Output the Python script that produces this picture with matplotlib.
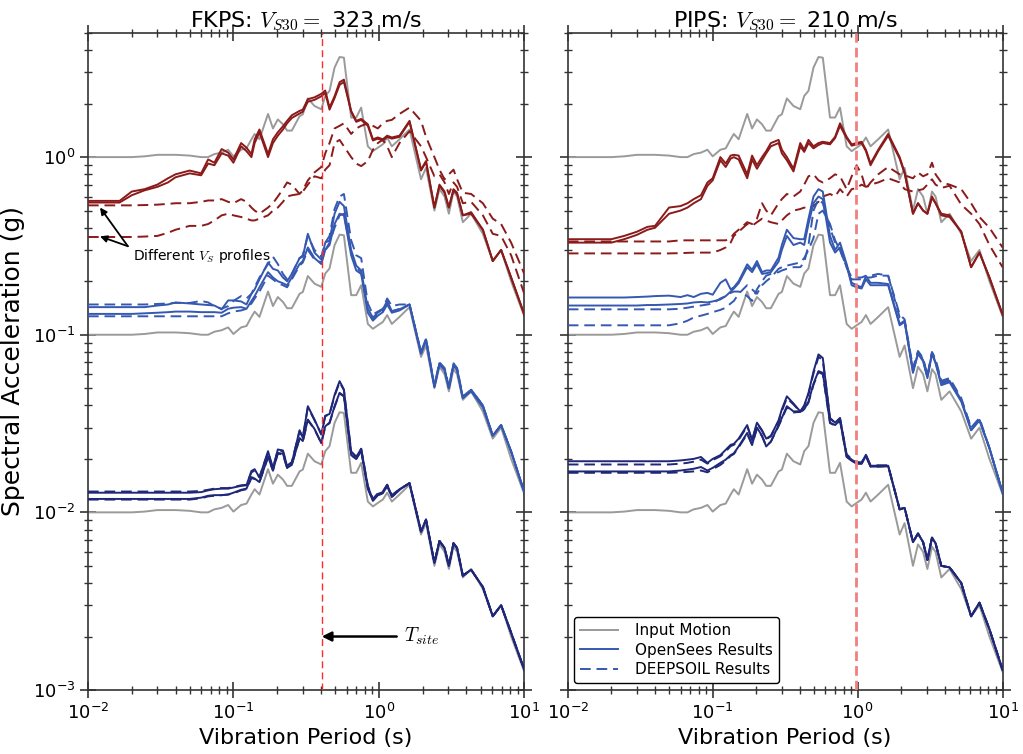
import matplotlib
matplotlib.use("Agg")
import matplotlib.pyplot as plt
from matplotlib.lines import Line2D
from matplotlib.ticker import LogLocator, NullFormatter

plt.rcParams["mathtext.fontset"] = "cm"
plt.rcParams["font.family"] = ["DejaVu Sans"]

# vibration periods (s), shared by every curve
period = [0.01, 0.0165, 0.020, 0.0245, 0.030, 0.0355, 0.040, 0.050, 0.060, 0.067,
          0.074, 0.083, 0.092, 0.100, 0.113, 0.123, 0.133, 0.140, 0.151, 0.173,
          0.187, 0.202, 0.219, 0.234, 0.252, 0.285, 0.300, 0.325, 0.361, 0.402,
          0.428, 0.458, 0.496, 0.537, 0.575, 0.645, 0.699, 0.756, 0.840, 0.910,
          0.984, 1.065, 1.141, 1.228, 1.387, 1.625, 1.95, 2.11, 2.41, 2.61,
          2.83, 3.03, 3.26, 3.45, 3.78, 4.31, 5.19, 6.07, 6.93, 8.12, 10.0]

# input motion at the three intensity levels
input_1 = [1.00, 1.00, 1.00, 1.01, 1.03, 1.03, 1.03, 1.02, 1.00, 1.00,
           1.04, 1.06, 1.10, 1.01, 1.10, 1.12, 1.26, 1.35, 1.26, 1.75,
           1.45, 1.63, 1.53, 1.41, 1.41, 1.70, 1.74, 2.14, 1.94, 1.86,
           2.21, 2.36, 3.19, 3.66, 3.63, 1.67, 1.67, 1.90, 1.15, 1.08,
           1.13, 1.18, 1.29, 1.15, 1.26, 1.43, 0.75, 0.87, 0.50, 0.66,
           0.60, 0.48, 0.64, 0.60, 0.43, 0.48, 0.37, 0.26, 0.30, 0.20, 0.127]
input_01 = [0.100, 0.100, 0.100, 0.101, 0.103, 0.103, 0.103, 0.102, 0.100, 0.100,
            0.104, 0.106, 0.110, 0.101, 0.110, 0.112, 0.126, 0.135, 0.126, 0.175,
            0.145, 0.163, 0.153, 0.141, 0.141, 0.170, 0.174, 0.214, 0.194, 0.186,
            0.221, 0.236, 0.319, 0.366, 0.363, 0.167, 0.167, 0.190, 0.115, 0.108,
            0.113, 0.118, 0.129, 0.115, 0.126, 0.143, 0.075, 0.087, 0.050, 0.066,
            0.060, 0.048, 0.064, 0.060, 0.043, 0.048, 0.037, 0.026, 0.030, 0.020, 0.0127]
input_001 = [0.0100, 0.0100, 0.0100, 0.0101, 0.0103, 0.0103, 0.0103, 0.0102, 0.0100, 0.0100,
             0.0104, 0.0106, 0.0110, 0.0101, 0.0110, 0.0112, 0.0126, 0.0135, 0.0126, 0.0175,
             0.0145, 0.0163, 0.0153, 0.0141, 0.0141, 0.0170, 0.0174, 0.0214, 0.0194, 0.0186,
             0.0221, 0.0236, 0.0319, 0.0366, 0.0363, 0.0167, 0.0167, 0.0190, 0.0115, 0.0108,
             0.0113, 0.0118, 0.0129, 0.0115, 0.0126, 0.0143, 0.0075, 0.0087, 0.0050, 0.0066,
             0.0060, 0.0048, 0.0064, 0.0060, 0.0043, 0.0048, 0.0037, 0.0026, 0.0030, 0.0020, 0.00127]

# ---- FKPS ----
fk_hi_os_a = [0.567, 0.567, 0.64, 0.66, 0.70, 0.76, 0.80, 0.84, 0.81, 0.97,
              0.93, 1.11, 1.06, 0.97, 1.20, 1.13, 1.04, 1.26, 1.43, 1.04,
              1.26, 1.38, 1.49, 1.60, 1.72, 1.82, 1.85, 2.12, 2.17, 2.27,
              2.37, 1.90, 2.20, 2.64, 2.73, 1.82, 1.60, 1.64, 1.53, 1.26,
              1.29, 1.26, 1.32, 1.29, 1.32, 1.60, 0.85, 0.95, 0.52, 0.70,
              0.64, 0.52, 0.66, 0.63, 0.47, 0.49, 0.39, 0.26, 0.30, 0.21, 0.13]
fk_hi_os_b = [0.555, 0.555, 0.61, 0.65, 0.68, 0.72, 0.77, 0.81, 0.79, 0.92,
              0.90, 1.05, 1.02, 0.93, 1.15, 1.08, 1.00, 1.20, 1.38, 1.00,
              1.20, 1.32, 1.43, 1.55, 1.66, 1.76, 1.80, 2.05, 2.10, 2.20,
              2.30, 1.85, 2.15, 2.55, 2.65, 1.80, 1.58, 1.62, 1.50, 1.24,
              1.27, 1.24, 1.30, 1.27, 1.30, 1.58, 0.84, 0.94, 0.52, 0.69,
              0.63, 0.52, 0.65, 0.62, 0.47, 0.48, 0.39, 0.26, 0.30, 0.21, 0.13]
fk_hi_ds_a = [0.535, 0.535, 0.535, 0.537, 0.54, 0.545, 0.55, 0.55, 0.56, 0.57,
              0.57, 0.58, 0.56, 0.55, 0.58, 0.56, 0.52, 0.50, 0.48, 0.52,
              0.55, 0.60, 0.66, 0.72, 0.70, 0.62, 0.65, 0.74, 0.82, 0.88,
              1.05, 1.20, 1.45, 1.50, 1.55, 1.35, 1.45, 1.50, 1.55, 1.50,
              1.45, 1.55, 1.60, 1.62, 1.75, 1.90, 1.60, 1.30, 1.00, 0.85,
              0.75, 0.80, 0.85, 0.75, 0.63, 0.62, 0.55, 0.45, 0.42, 0.33, 0.22]
fk_hi_ds_b = [0.355, 0.355, 0.355, 0.357, 0.36, 0.375, 0.39, 0.41, 0.41, 0.42,
              0.44, 0.47, 0.48, 0.47, 0.46, 0.45, 0.44, 0.44, 0.45, 0.47,
              0.50, 0.52, 0.56, 0.60, 0.61, 0.62, 0.64, 0.70, 0.78, 0.76,
              0.85, 0.90, 1.20, 1.25, 1.15, 1.00, 0.92, 0.89, 0.95, 1.10,
              1.20, 1.25, 1.15, 1.00, 1.20, 1.40, 1.15, 1.00, 0.78, 0.80,
              0.72, 0.62, 0.72, 0.68, 0.55, 0.56, 0.47, 0.37, 0.36, 0.28, 0.17]
fk_mid_os_a = [0.143, 0.143, 0.143, 0.143, 0.146, 0.148, 0.152, 0.150, 0.148, 0.147,
               0.146, 0.139, 0.156, 0.156, 0.154, 0.148, 0.170, 0.180, 0.205, 0.255,
               0.235, 0.230, 0.210, 0.200, 0.220, 0.270, 0.275, 0.370, 0.290, 0.265,
               0.330, 0.340, 0.480, 0.560, 0.530, 0.300, 0.245, 0.230, 0.140, 0.125,
               0.133, 0.139, 0.155, 0.136, 0.139, 0.148, 0.079, 0.094, 0.051, 0.069,
               0.064, 0.050, 0.068, 0.064, 0.044, 0.049, 0.040, 0.027, 0.031, 0.022, 0.013]
fk_mid_os_b = [0.131, 0.131, 0.131, 0.132, 0.133, 0.134, 0.135, 0.135, 0.134, 0.134,
               0.134, 0.133, 0.140, 0.142, 0.143, 0.140, 0.155, 0.165, 0.185, 0.225,
               0.210, 0.200, 0.195, 0.190, 0.210, 0.250, 0.260, 0.310, 0.270, 0.250,
               0.300, 0.320, 0.420, 0.480, 0.470, 0.280, 0.230, 0.220, 0.133, 0.120,
               0.128, 0.134, 0.148, 0.133, 0.137, 0.148, 0.078, 0.093, 0.051, 0.068,
               0.063, 0.050, 0.067, 0.063, 0.044, 0.048, 0.039, 0.027, 0.031, 0.022, 0.013]
fk_mid_ds_a = [0.148, 0.148, 0.148, 0.148, 0.149, 0.150, 0.151, 0.151, 0.155, 0.152,
               0.145, 0.140, 0.145, 0.155, 0.165, 0.160, 0.170, 0.185, 0.210, 0.250,
               0.275, 0.250, 0.220, 0.205, 0.220, 0.270, 0.280, 0.360, 0.300, 0.275,
               0.330, 0.360, 0.510, 0.600, 0.620, 0.340, 0.280, 0.270, 0.150, 0.130,
               0.135, 0.140, 0.160, 0.145, 0.148, 0.148, 0.080, 0.095, 0.052, 0.070,
               0.065, 0.051, 0.069, 0.065, 0.045, 0.049, 0.040, 0.027, 0.031, 0.022, 0.013]
fk_mid_ds_b = [0.127, 0.127, 0.127, 0.127, 0.127, 0.127, 0.127, 0.127, 0.127, 0.127,
               0.127, 0.127, 0.132, 0.135, 0.137, 0.140, 0.150, 0.160, 0.175, 0.215,
               0.205, 0.195, 0.190, 0.185, 0.205, 0.245, 0.255, 0.300, 0.265, 0.255,
               0.300, 0.330, 0.400, 0.470, 0.480, 0.290, 0.240, 0.225, 0.136, 0.122,
               0.130, 0.136, 0.150, 0.135, 0.140, 0.148, 0.079, 0.094, 0.051, 0.069,
               0.064, 0.050, 0.068, 0.064, 0.044, 0.049, 0.040, 0.027, 0.031, 0.022, 0.013]
fk_lo_os_a = [0.0129, 0.0129, 0.0129, 0.0129, 0.0129, 0.0129, 0.0129, 0.0129, 0.0130, 0.0133,
              0.0135, 0.0136, 0.0136, 0.0138, 0.0141, 0.0142, 0.0171, 0.0175, 0.0157, 0.0221,
              0.0176, 0.0226, 0.0223, 0.0182, 0.0190, 0.0290, 0.0263, 0.0396, 0.0333, 0.0274,
              0.0350, 0.0358, 0.0458, 0.0548, 0.0492, 0.0219, 0.0205, 0.0228, 0.0140, 0.0118,
              0.0127, 0.0130, 0.0143, 0.0124, 0.0135, 0.0146, 0.0078, 0.0091, 0.0052, 0.0069,
              0.0063, 0.0050, 0.0067, 0.0063, 0.0044, 0.00475, 0.0038, 0.0026, 0.0030, 0.0021, 0.0013]
fk_lo_os_b = [0.0119, 0.0119, 0.0119, 0.0119, 0.0119, 0.0119, 0.0119, 0.0119, 0.0121, 0.0124,
              0.0125, 0.0125, 0.0126, 0.0129, 0.0134, 0.0136, 0.0158, 0.0155, 0.0148, 0.0206,
              0.0172, 0.0216, 0.0214, 0.0178, 0.0185, 0.0262, 0.0252, 0.0333, 0.0295, 0.0245,
              0.0305, 0.0320, 0.0396, 0.0471, 0.0452, 0.0210, 0.0200, 0.0222, 0.0136, 0.0116,
              0.0125, 0.0128, 0.0141, 0.0122, 0.0134, 0.0146, 0.0078, 0.0091, 0.0052, 0.0069,
              0.0063, 0.0050, 0.0067, 0.0063, 0.0044, 0.00475, 0.0038, 0.0026, 0.0030, 0.0021, 0.0013]
fk_lo_ds_a = [0.0131, 0.0131, 0.0131, 0.0131, 0.0131, 0.0131, 0.0131, 0.0131, 0.0132, 0.0134,
              0.0136, 0.0137, 0.0137, 0.0139, 0.0142, 0.0143, 0.0168, 0.0172, 0.0158, 0.0218,
              0.0178, 0.0224, 0.0221, 0.0183, 0.0192, 0.0286, 0.0265, 0.0390, 0.0330, 0.0276,
              0.0348, 0.0356, 0.0452, 0.0540, 0.0488, 0.0220, 0.0206, 0.0228, 0.0141, 0.0119,
              0.0128, 0.0131, 0.0143, 0.0125, 0.0135, 0.0146, 0.0078, 0.0091, 0.0052, 0.0069,
              0.0063, 0.0050, 0.0067, 0.0063, 0.0044, 0.00475, 0.0038, 0.0026, 0.0030, 0.0021, 0.0013]
fk_lo_ds_b = [0.0118, 0.0118, 0.0118, 0.0118, 0.0118, 0.0118, 0.0118, 0.0118, 0.0120, 0.0123,
              0.0124, 0.0125, 0.0126, 0.0128, 0.0133, 0.0135, 0.0156, 0.0154, 0.0148, 0.0204,
              0.0172, 0.0214, 0.0212, 0.0178, 0.0186, 0.0260, 0.0250, 0.0330, 0.0293, 0.0246,
              0.0303, 0.0318, 0.0392, 0.0466, 0.0450, 0.0210, 0.0200, 0.0222, 0.0136, 0.0117,
              0.0125, 0.0128, 0.0141, 0.0122, 0.0134, 0.0146, 0.0078, 0.0091, 0.0052, 0.0069,
              0.0063, 0.0050, 0.0067, 0.0063, 0.0044, 0.00475, 0.0038, 0.0026, 0.0030, 0.0021, 0.0013]

# ---- PIPS ----
pi_hi_os_a = [0.345, 0.345, 0.345, 0.36, 0.38, 0.405, 0.41, 0.52, 0.53, 0.55,
              0.58, 0.61, 0.72, 0.76, 1.00, 0.92, 1.02, 1.03, 1.02, 0.80,
              1.02, 0.90, 1.00, 1.08, 1.20, 1.25, 1.10, 1.00, 0.86, 1.20,
              1.10, 1.25, 1.15, 1.20, 1.22, 1.20, 1.30, 1.55, 1.30, 1.18,
              1.20, 1.22, 1.10, 0.92, 1.10, 1.35, 1.00, 0.82, 0.48, 0.55,
              0.50, 0.48, 0.60, 0.55, 0.48, 0.47, 0.38, 0.24, 0.29, 0.21, 0.13]
pi_hi_os_b = [0.33, 0.33, 0.33, 0.345, 0.365, 0.39, 0.40, 0.48, 0.50, 0.52,
              0.55, 0.58, 0.69, 0.74, 0.96, 0.88, 0.98, 1.00, 0.97, 0.76,
              0.97, 0.86, 0.96, 1.05, 1.15, 1.20, 1.05, 0.96, 0.83, 1.15,
              1.07, 1.20, 1.12, 1.17, 1.20, 1.18, 1.28, 1.50, 1.28, 1.16,
              1.18, 1.20, 1.08, 0.90, 1.08, 1.32, 0.98, 0.81, 0.48, 0.55,
              0.50, 0.48, 0.59, 0.55, 0.47, 0.46, 0.38, 0.24, 0.29, 0.21, 0.13]
pi_hi_ds_a = [0.335, 0.335, 0.335, 0.335, 0.335, 0.335, 0.335, 0.335, 0.34, 0.34,
              0.34, 0.34, 0.34, 0.34, 0.34, 0.34, 0.35, 0.37, 0.39, 0.43,
              0.42, 0.45, 0.55, 0.50, 0.47, 0.55, 0.58, 0.62, 0.60, 0.64,
              0.70, 0.78, 0.80, 0.74, 0.72, 0.76, 0.80, 0.78, 0.66, 0.78,
              0.90, 0.80, 0.66, 0.72, 0.80, 0.88, 0.80, 0.79, 0.76, 0.82,
              0.78, 0.80, 0.93, 0.80, 0.72, 0.70, 0.66, 0.55, 0.46, 0.40, 0.31]
pi_hi_ds_b = [0.287, 0.287, 0.287, 0.287, 0.287, 0.287, 0.287, 0.287, 0.288, 0.289,
              0.29, 0.29, 0.29, 0.29, 0.30, 0.31, 0.33, 0.36, 0.38, 0.42,
              0.41, 0.43, 0.45, 0.44, 0.43, 0.42, 0.44, 0.47, 0.50, 0.51,
              0.52, 0.51, 0.53, 0.56, 0.60, 0.62, 0.60, 0.66, 0.60, 0.66,
              0.67, 0.70, 0.68, 0.70, 0.72, 0.76, 0.72, 0.66, 0.64, 0.65,
              0.66, 0.70, 0.75, 0.70, 0.67, 0.69, 0.54, 0.48, 0.42, 0.32, 0.24]
pi_mid_os_a = [0.162, 0.162, 0.162, 0.162, 0.163, 0.164, 0.165, 0.166, 0.163, 0.167,
               0.163, 0.170, 0.172, 0.168, 0.196, 0.205, 0.180, 0.185, 0.200, 0.249,
               0.232, 0.260, 0.225, 0.230, 0.230, 0.272, 0.320, 0.390, 0.350, 0.345,
               0.345, 0.450, 0.600, 0.660, 0.640, 0.360, 0.300, 0.330, 0.250, 0.196,
               0.190, 0.185, 0.214, 0.196, 0.196, 0.193, 0.115, 0.120, 0.062, 0.079,
               0.072, 0.058, 0.079, 0.070, 0.053, 0.055, 0.043, 0.029, 0.033, 0.023, 0.0129]
pi_mid_os_b = [0.146, 0.146, 0.146, 0.146, 0.146, 0.147, 0.147, 0.148, 0.149, 0.150,
               0.152, 0.153, 0.152, 0.154, 0.158, 0.165, 0.175, 0.182, 0.195, 0.240,
               0.225, 0.250, 0.220, 0.222, 0.225, 0.258, 0.300, 0.360, 0.320, 0.330,
               0.320, 0.420, 0.550, 0.600, 0.580, 0.330, 0.290, 0.310, 0.245, 0.190,
               0.185, 0.182, 0.205, 0.190, 0.190, 0.190, 0.113, 0.118, 0.061, 0.078,
               0.071, 0.057, 0.078, 0.069, 0.052, 0.054, 0.042, 0.029, 0.033, 0.023, 0.0129]
pi_mid_ds_a = [0.139, 0.139, 0.139, 0.139, 0.139, 0.139, 0.139, 0.139, 0.140, 0.142,
               0.144, 0.146, 0.148, 0.150, 0.160, 0.165, 0.172, 0.175, 0.175, 0.165,
               0.155, 0.180, 0.200, 0.215, 0.220, 0.225, 0.230, 0.235, 0.240, 0.240,
               0.255, 0.320, 0.500, 0.580, 0.550, 0.400, 0.330, 0.300, 0.240, 0.205,
               0.205, 0.205, 0.210, 0.210, 0.215, 0.215, 0.130, 0.122, 0.065, 0.081,
               0.074, 0.059, 0.080, 0.073, 0.055, 0.057, 0.044, 0.030, 0.034, 0.023, 0.013]
pi_mid_ds_b = [0.113, 0.113, 0.113, 0.113, 0.113, 0.113, 0.113, 0.113, 0.116, 0.120,
               0.125, 0.128, 0.131, 0.134, 0.138, 0.142, 0.150, 0.155, 0.170, 0.190,
               0.180, 0.170, 0.190, 0.200, 0.210, 0.235, 0.240, 0.245, 0.250, 0.255,
               0.270, 0.300, 0.350, 0.480, 0.500, 0.420, 0.340, 0.300, 0.240, 0.210,
               0.210, 0.210, 0.215, 0.215, 0.220, 0.215, 0.125, 0.120, 0.063, 0.080,
               0.073, 0.058, 0.079, 0.071, 0.054, 0.056, 0.043, 0.030, 0.033, 0.023, 0.013]
pi_lo_os_a = [0.0194, 0.0194, 0.0194, 0.0194, 0.0194, 0.0194, 0.0194, 0.0194, 0.0196, 0.0198,
              0.0200, 0.0205, 0.0190, 0.0200, 0.0210, 0.0225, 0.0240, 0.0243, 0.0260, 0.0310,
              0.0255, 0.0320, 0.0290, 0.0260, 0.0270, 0.0330, 0.0380, 0.0450, 0.0410, 0.0370,
              0.0400, 0.0470, 0.0620, 0.0775, 0.0740, 0.0340, 0.0320, 0.0340, 0.0210, 0.0198,
              0.0190, 0.0190, 0.0211, 0.0183, 0.0183, 0.0183, 0.0104, 0.0106, 0.0068, 0.0076,
              0.0068, 0.0054, 0.0072, 0.0067, 0.0050, 0.0049, 0.0040, 0.0026, 0.0031, 0.0022, 0.0013]
pi_lo_os_b = [0.0170, 0.0170, 0.0170, 0.0170, 0.0170, 0.0170, 0.0170, 0.0170, 0.0172, 0.0174,
              0.0176, 0.0180, 0.0172, 0.0178, 0.0190, 0.0198, 0.0210, 0.0215, 0.0235, 0.0280,
              0.0240, 0.0300, 0.0270, 0.0235, 0.0250, 0.0310, 0.0340, 0.0396, 0.0370, 0.0371,
              0.0380, 0.0420, 0.0530, 0.0624, 0.0610, 0.0320, 0.0310, 0.0330, 0.0205, 0.0195,
              0.0188, 0.0188, 0.0208, 0.0181, 0.0181, 0.0182, 0.0104, 0.0106, 0.0068, 0.0076,
              0.0068, 0.0054, 0.0072, 0.0067, 0.0050, 0.0049, 0.0040, 0.0026, 0.0031, 0.0022, 0.0013]
pi_lo_ds_a = [0.0186, 0.0186, 0.0186, 0.0186, 0.0186, 0.0186, 0.0186, 0.0186, 0.0188, 0.0190,
              0.0193, 0.0198, 0.0188, 0.0197, 0.0207, 0.0220, 0.0236, 0.0240, 0.0256, 0.0305,
              0.0255, 0.0315, 0.0288, 0.0258, 0.0268, 0.0325, 0.0372, 0.0440, 0.0405, 0.0368,
              0.0395, 0.0462, 0.0605, 0.0750, 0.0720, 0.0338, 0.0318, 0.0338, 0.0212, 0.0200,
              0.0192, 0.0191, 0.0210, 0.0184, 0.0184, 0.0184, 0.0104, 0.0106, 0.0068, 0.0076,
              0.0068, 0.0054, 0.0072, 0.0067, 0.0050, 0.0049, 0.0040, 0.0026, 0.0031, 0.0022, 0.0013]
pi_lo_ds_b = [0.0167, 0.0167, 0.0167, 0.0167, 0.0167, 0.0167, 0.0167, 0.0167, 0.0168, 0.0169,
              0.0170, 0.0172, 0.0168, 0.0175, 0.0185, 0.0195, 0.0208, 0.0213, 0.0232, 0.0276,
              0.0240, 0.0296, 0.0268, 0.0236, 0.0250, 0.0306, 0.0336, 0.0390, 0.0365, 0.0368,
              0.0378, 0.0415, 0.0522, 0.0615, 0.0600, 0.0318, 0.0308, 0.0328, 0.0206, 0.0196,
              0.0189, 0.0188, 0.0207, 0.0181, 0.0181, 0.0182, 0.0104, 0.0106, 0.0068, 0.0076,
              0.0068, 0.0054, 0.0072, 0.0067, 0.0050, 0.0049, 0.0040, 0.0026, 0.0031, 0.0022, 0.0013]

site_titles = ["FKPS: $V_{S30} =$ 323 m/s", "PIPS: $V_{S30} =$ 210 m/s"]
t_site = [0.405, 0.975]

gray = "#9a9a9a"
red = "#8b1a1a"
blue = "#3558b0"
navy = "#1f2878"
dash = (0, (5.5, 3))

fig = plt.figure(figsize=(10.23, 7.54), dpi=100)
ax1 = fig.add_axes([0.0860, 0.0849, 0.4265, 0.8714])
ax2 = fig.add_axes([0.5550, 0.0849, 0.4250, 0.8714])

panels = [
    (ax1, [fk_hi_os_a, fk_hi_os_b], [fk_hi_ds_a, fk_hi_ds_b],
     [fk_mid_os_a, fk_mid_os_b], [fk_mid_ds_a, fk_mid_ds_b],
     [fk_lo_os_a, fk_lo_os_b], [fk_lo_ds_a, fk_lo_ds_b]),
    (ax2, [pi_hi_os_a, pi_hi_os_b], [pi_hi_ds_a, pi_hi_ds_b],
     [pi_mid_os_a, pi_mid_os_b], [pi_mid_ds_a, pi_mid_ds_b],
     [pi_lo_os_a, pi_lo_os_b], [pi_lo_ds_a, pi_lo_ds_b]),
]

for k, (ax, hi_os, hi_ds, mid_os, mid_ds, lo_os, lo_ds) in enumerate(panels):
    for inp in (input_1, input_01, input_001):
        ax.plot(period, inp, color=gray, lw=1.4, zorder=2)
    for col, os_set, ds_set in ((red, hi_os, hi_ds), (blue, mid_os, mid_ds),
                                (navy, lo_os, lo_ds)):
        for s in ds_set:
            ax.plot(period, s, color=col, lw=1.4, linestyle=dash, zorder=3)
        for s in os_set:
            ax.plot(period, s, color=col, lw=1.4, zorder=4)

    if k == 0:
        ax.axvline(t_site[k], color="#ff2a2a", lw=1.0, linestyle=(0, (5, 3)), zorder=5)
    else:
        ax.axvline(t_site[k], color="#f08080", lw=2.0, linestyle=(0, (3.5, 1.8)), zorder=5)

    ax.set_xscale("log")
    ax.set_yscale("log")
    ax.set_xlim(0.01, 10)
    ax.set_ylim(1e-3, 5)
    ax.set_title(site_titles[k], fontsize=16, pad=3)
    ax.set_xlabel("Vibration Period (s)", fontsize=16)
    for axis in (ax.xaxis, ax.yaxis):
        axis.set_major_locator(LogLocator(base=10, numticks=10))
        axis.set_minor_locator(LogLocator(base=10, subs=range(2, 10), numticks=20))
        axis.set_minor_formatter(NullFormatter())
    ax.tick_params(which="both", direction="inout", top=True, right=True,
                   color="#333333", labelsize=13)
    ax.tick_params(which="major", length=11, width=1.2)
    ax.tick_params(which="minor", length=6, width=1.0)
    for sp in ax.spines.values():
        sp.set_color("#333333")
        sp.set_linewidth(1.2)

ax1.set_ylabel("Spectral Acceleration (g)", fontsize=18, labelpad=6)
ax2.tick_params(labelleft=False)

# annotations
ax1.annotate("", xy=(0.0121, 0.52), xytext=(0.0188, 0.315),
             arrowprops=dict(arrowstyle="-|>", color="k", lw=1.3, mutation_scale=10,
                             shrinkA=0, shrinkB=0))
ax1.annotate("", xy=(0.0121, 0.358), xytext=(0.0188, 0.315),
             arrowprops=dict(arrowstyle="-|>", color="k", lw=1.3, mutation_scale=10,
                             shrinkA=0, shrinkB=0))
ax1.text(0.0204, 0.277, "Different $V_S$ profiles", fontsize=10, va="center", ha="left")
ax1.annotate("$T_{site}$", xy=(t_site[0], 0.002), xytext=(1.48, 0.002),
             fontsize=14, va="center", ha="left",
             arrowprops=dict(arrowstyle="-|>", color="k", lw=1.8, mutation_scale=14,
                             shrinkA=3, shrinkB=0))

handles = [Line2D([], [], color=gray, lw=1.4),
           Line2D([], [], color=blue, lw=1.4),
           Line2D([], [], color=blue, lw=1.4, linestyle=dash)]
leg = ax2.legend(handles, ["Input Motion", "OpenSees Results", "DEEPSOIL Results"],
                 loc="lower left", bbox_to_anchor=(0.014, 0.01), borderaxespad=0,
                 fontsize=11, handlelength=2.5, handletextpad=1.1, fancybox=True,
                 framealpha=1, labelspacing=0.3)
leg.get_frame().set_edgecolor("black")
leg.get_frame().set_linewidth(1.0)

fig.savefig("out.png", dpi=100)
